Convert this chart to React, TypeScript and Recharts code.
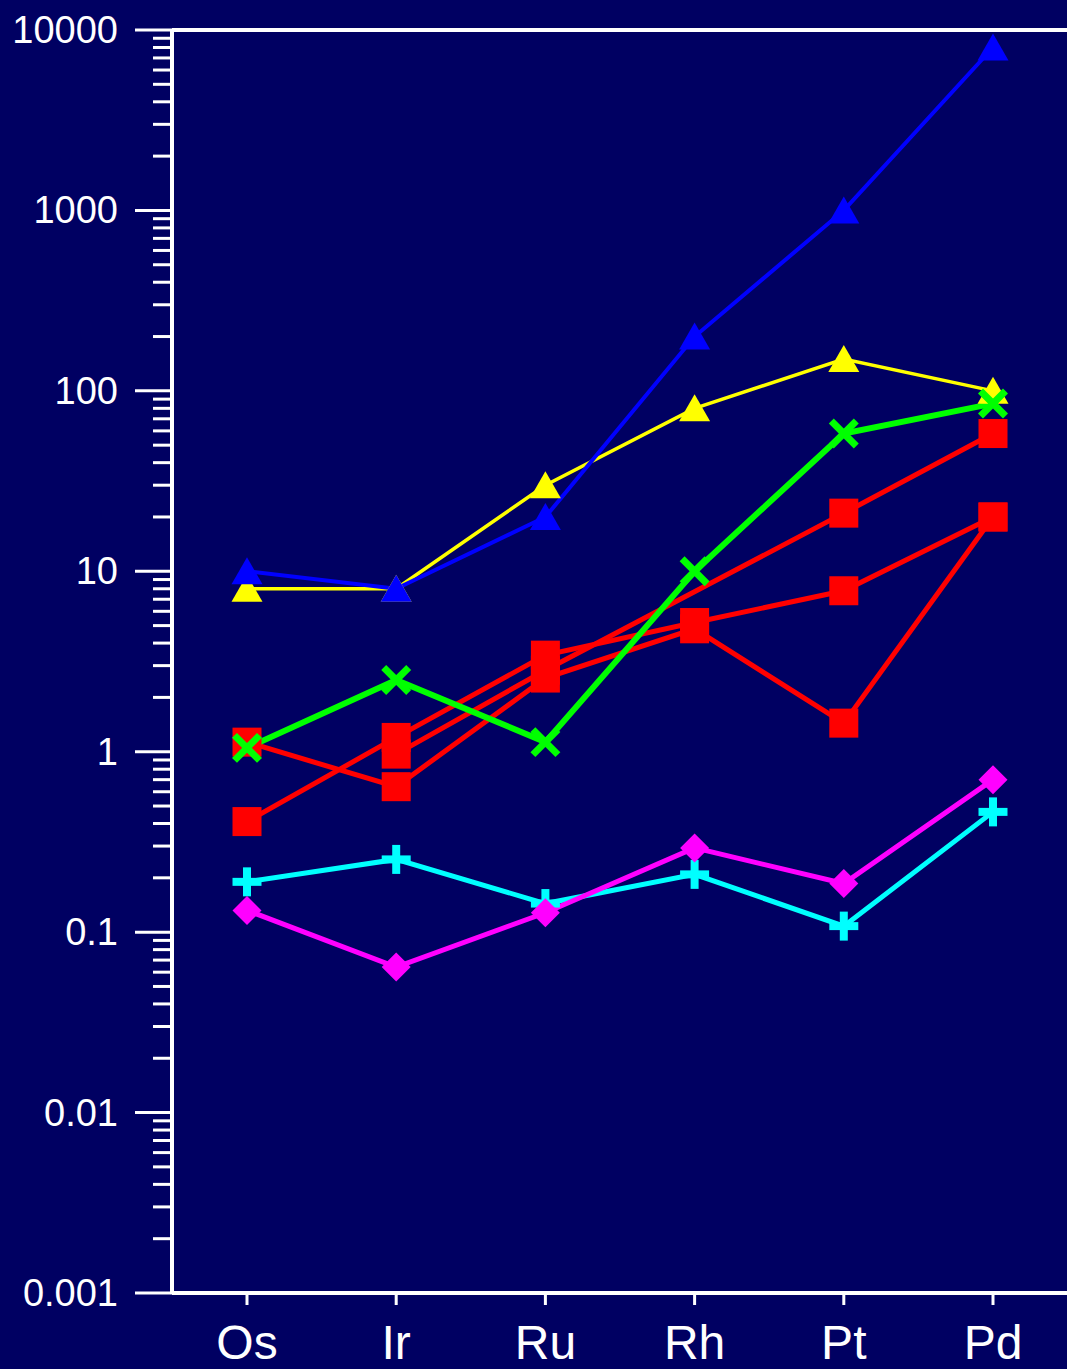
import React from 'react';
import { LineChart, Line, XAxis, YAxis, ReferenceLine } from 'recharts';

const categories = ['Os', 'Ir', 'Ru', 'Rh', 'Pt', 'Pd'];
const blueSeries = [10, 8, 20, 200, 1000, 8000];
const yellowSeries = [8, 8, 30, 80, 150, 100];
const greenSeries = [1.05, 2.5, 1.13, 10, 58, 85];
const redA = [1.13, 0.64, 2.56, 4.8, 1.44, 20];
const redB = [0.41, 1.2, 3.43, 5.2, 7.8, 20];
const redC = [null, 0.97, 2.83, null, 21, 58];
const cyanSeries = [0.19, 0.253, 0.144, 0.209, 0.108, 0.464];
const magentaSeries = [0.132, 0.064, 0.128, 0.293, 0.186, 0.7];

const majorTicks = [0.001, 0.01, 0.1, 1, 10, 100, 1000, 10000];
const majorLabels = ['0.001', '0.01', '0.1', '1', '10', '100', '1000', '10000'];
const minorMultipliers = [2, 3, 4, 5, 6, 7, 8, 9];

const yTicks: number[] = [];
majorTicks.forEach((m, i) => {
  yTicks.push(m);
  if (i < majorTicks.length - 1) minorMultipliers.forEach((k) => yTicks.push(m * k));
});

const data = categories.map((c, i) => ({
  name: c,
  blue: blueSeries[i],
  yellow: yellowSeries[i],
  green: greenSeries[i],
  redA: redA[i],
  redB: redB[i],
  redC: redC[i],
  cyan: cyanSeries[i],
  magenta: magentaSeries[i],
}));

const BG = '#000062';
const FONT = '"Liberation Sans", Arial, Helvetica, sans-serif';

const YTick = (props: any) => {
  const { x, y, payload } = props;
  const v = payload.value;
  const idx = majorTicks.findIndex((m) => Math.abs(v / m - 1) < 1e-6);
  const major = idx >= 0;
  return (
    <g>
      <line x1={x} x2={x - (major ? 37 : 19)} y1={y} y2={y} stroke="#fff" strokeWidth={3} />
      {major && (
        <text x={x - 54} y={y} dy={13} textAnchor="end" fill="#fff" fontSize={38} fontFamily={FONT}>
          {majorLabels[idx]}
        </text>
      )}
    </g>
  );
};

const XTick = (props: any) => {
  const { x, y, payload } = props;
  return (
    <text x={x} y={y} dy={54} textAnchor="middle" fill="#fff" fontSize={48} fontFamily={FONT}>
      {payload.value}
    </text>
  );
};

type Shape = 'triangle' | 'square' | 'x' | 'plus' | 'diamond';

const makeDot = (shape: Shape, color: string) => (props: any) => {
  const { cx, cy, index, value } = props;
  const key = `dot-${shape}-${color}-${index}`;
  if (cx == null || cy == null || value == null || (Array.isArray(value) && value[1] == null)) {
    return <g key={key} />;
  }
  switch (shape) {
    case 'triangle':
      return (
        <polygon key={key} points={`${cx},${cy - 14} ${cx - 15.5},${cy + 13} ${cx + 15.5},${cy + 13}`} fill={color} />
      );
    case 'square':
      return <rect key={key} x={cx - 14.5} y={cy - 14.5} width={29} height={29} fill={color} />;
    case 'x':
      return (
        <g key={key}>
          <line x1={cx - 12.5} y1={cy - 12.5} x2={cx + 12.5} y2={cy + 12.5} stroke={color} strokeWidth={7} />
          <line x1={cx - 12.5} y1={cy + 12.5} x2={cx + 12.5} y2={cy - 12.5} stroke={color} strokeWidth={7} />
        </g>
      );
    case 'plus':
      return (
        <g key={key}>
          <line x1={cx - 14.5} y1={cy} x2={cx + 14.5} y2={cy} stroke={color} strokeWidth={8} />
          <line x1={cx} y1={cy - 14.5} x2={cx} y2={cy + 14.5} stroke={color} strokeWidth={8} />
        </g>
      );
    case 'diamond':
    default:
      return (
        <polygon
          key={key}
          points={`${cx},${cy - 14.5} ${cx + 14.5},${cy} ${cx},${cy + 14.5} ${cx - 14.5},${cy}`}
          fill={color}
        />
      );
  }
};

export default function App() {
  return (
    <div
      style={{
        position: 'absolute',
        top: 0,
        left: 0,
        width: 1067,
        height: 1369,
        background: BG,
        overflow: 'hidden',
      }}
    >
      <LineChart width={1067} height={1369} data={data} margin={{ top: 30, right: 0, bottom: 0, left: 0 }}>
        <XAxis
          dataKey="name"
          height={76}
          padding={{ left: 75, right: 74 }}
          axisLine={{ stroke: '#fff', strokeWidth: 4 }}
          tickLine={{ stroke: '#fff', strokeWidth: 3 }}
          tickSize={12}
          tickMargin={0}
          interval={0}
          tick={<XTick />}
        />
        <YAxis
          type="number"
          scale="log"
          domain={[0.001, 10000]}
          ticks={yTicks}
          interval={0}
          allowDataOverflow
          width={172}
          axisLine={{ stroke: '#fff', strokeWidth: 4 }}
          tickLine={false}
          tickSize={0}
          tickMargin={0}
          tick={<YTick />}
        />
        <ReferenceLine y={10000} stroke="#fff" strokeWidth={4} />
        <Line dataKey="redA" type="linear" stroke="#ff0000" strokeWidth={5} dot={makeDot('square', '#ff0000')} activeDot={false} isAnimationActive={false} />
        <Line dataKey="redB" type="linear" stroke="#ff0000" strokeWidth={5} dot={makeDot('square', '#ff0000')} activeDot={false} isAnimationActive={false} />
        <Line dataKey="redC" type="linear" connectNulls stroke="#ff0000" strokeWidth={5} dot={makeDot('square', '#ff0000')} activeDot={false} isAnimationActive={false} />
        <Line dataKey="cyan" type="linear" stroke="#00ffff" strokeWidth={5} dot={makeDot('plus', '#00ffff')} activeDot={false} isAnimationActive={false} />
        <Line dataKey="magenta" type="linear" stroke="#ff00ff" strokeWidth={5} dot={makeDot('diamond', '#ff00ff')} activeDot={false} isAnimationActive={false} />
        <Line dataKey="yellow" type="linear" stroke="#ffff00" strokeWidth={3.5} dot={makeDot('triangle', '#ffff00')} activeDot={false} isAnimationActive={false} />
        <Line dataKey="blue" type="linear" stroke="#0000ff" strokeWidth={4} dot={makeDot('triangle', '#0000ff')} activeDot={false} isAnimationActive={false} />
        <Line dataKey="green" type="linear" stroke="#00ff00" strokeWidth={6} dot={makeDot('x', '#00ff00')} activeDot={false} isAnimationActive={false} />
      </LineChart>
    </div>
  );
}
